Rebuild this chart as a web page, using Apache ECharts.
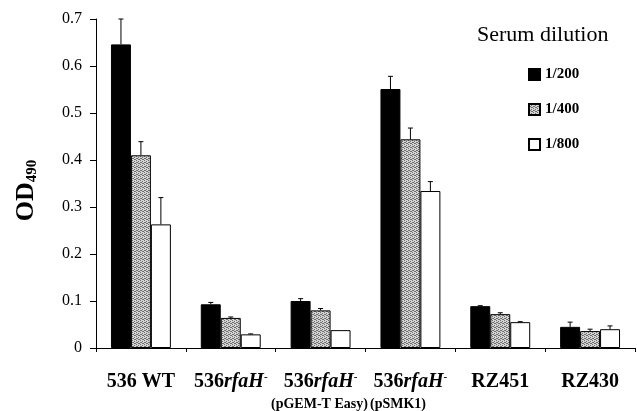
<!DOCTYPE html>
<html>
<head>
<meta charset="utf-8">
<script src="https://cdn.jsdelivr.net/npm/echarts@6/dist/echarts.min.js"></script>
<style>html,body{margin:0;padding:0;background:#fff;}#c{width:637px;height:411px;}</style>
</head>
<body>
<div id="c"></div>
<script>
// ---- data ----
const categories = ['536 WT', '536rfaH-', '536rfaH-', '536rfaH-', 'RZ451', 'RZ430'];
const subLabels = ['(pGEM-T Easy)', '(pSMK1)'];
const seriesNames = ['1/200', '1/400', '1/800'];
const val200 = [0.646, 0.093, 0.100, 0.551, 0.089, 0.045];
const err200 = [0.054, 0.004, 0.005, 0.027, 0.001, 0.010];
const val400 = [0.410, 0.064, 0.080, 0.444, 0.072, 0.036];
const err400 = [0.029, 0.002, 0.004, 0.024, 0.003, 0.004];
const val800 = [0.263, 0.029, 0.038, 0.334, 0.055, 0.040];
const err800 = [0.057, 0.001, 0.000, 0.020, 0.001, 0.007];
const yTicks = [0, 0.1, 0.2, 0.3, 0.4, 0.5, 0.6, 0.7];

// ---- grey halftone pattern ----
const pc = document.createElement('canvas');
pc.width = 4; pc.height = 4;
const pctx = pc.getContext('2d');
pctx.fillStyle = '#d4d4d4'; pctx.fillRect(0, 0, 4, 4);
pctx.fillStyle = '#6e6e6e';
[[0,0],[2,1],[1,2],[3,3],[2,3],[0,2]].forEach(p => pctx.fillRect(p[0], p[1], 1, 1));
const greyPattern = { image: pc, repeat: 'repeat' };

const FONT = '"Liberation Serif", "Times New Roman", serif';
const GAP = 1 / 3;

const vals = [val200, val400, val800];
const errs = [err200, err400, err800];
const fills = ['#000000', greyPattern, '#ffffff'];

const errData = [];
vals.forEach((arr, k) => arr.forEach((v, i) => errData.push([i, v, errs[k][i], k])));

const series = seriesNames.map((name, k) => ({
  name: name,
  type: 'bar',
  data: vals[k],
  barGap: '0%',
  barCategoryGap: '33.3%',
  itemStyle: { color: fills[k], borderColor: '#000', borderWidth: 1 },
  emphasis: { disabled: true },
  animation: false
}));

series.push({
  type: 'custom',
  data: errData,
  z: 5,
  animation: false,
  silent: true,
  renderItem: function (params, api) {
    const x = api.value(0), v = api.value(1), e = api.value(2), k = api.value(3);
    if (!(e > 0)) return null;
    const catW = api.size([1, 0])[0];
    const barW = catW * (1 - GAP) / 3;
    const base = api.coord([x, v]);
    const top = api.coord([x, v + e]);
    const cx = base[0] + (k - 1) * barW;
    const st = { stroke: '#000', lineWidth: 1 };
    return {
      type: 'group',
      children: [
        { type: 'line', shape: { x1: cx, y1: base[1], x2: cx, y2: top[1] }, style: st },
        { type: 'line', shape: { x1: cx - 2.5, y1: top[1], x2: cx + 2.5, y2: top[1] }, style: st }
      ]
    };
  }
});

const chart = echarts.init(document.getElementById('c'), null, { renderer: 'canvas' });
chart.setOption({
  backgroundColor: '#fff',
  animation: false,
  grid: { left: 96, right: 2, top: 19, bottom: 63, containLabel: false },
  title: {
    text: 'Serum dilution',
    left: 472, top: 19,
    textStyle: { fontFamily: FONT, fontSize: 22, fontWeight: 'normal', color: '#000' }
  },
  legend: {
    data: seriesNames,
    orient: 'vertical',
    left: 528, top: 67,
    padding: 0,
    icon: 'rect',
    itemWidth: 11, itemHeight: 11, itemGap: 20,
    selectedMode: false,
    textStyle: { fontFamily: FONT, fontSize: 15, fontWeight: 'bold', color: '#000' }
  },
  xAxis: {
    type: 'category',
    data: categories,
    axisLine: { lineStyle: { color: '#000', width: 1 } },
    axisTick: { show: true, length: 4, interval: 0, lineStyle: { color: '#000' } },
    axisLabel: {
      interval: 0, margin: 24, color: '#000',
      fontFamily: FONT, fontSize: 20, fontWeight: 'bold',
      formatter: function (v) {
        if (v === '536rfaH-') return '{n|536}{i|rfaH}{s|-}';
        return '{n|' + v + '}';
      },
      rich: {
        n: { fontFamily: FONT, fontSize: 20, fontWeight: 'bold', color: '#000' },
        i: { fontFamily: FONT, fontSize: 20, fontWeight: 'bold', fontStyle: 'italic', color: '#000' },
        s: { fontFamily: FONT, fontSize: 11, fontWeight: 'bold', color: '#000', verticalAlign: 'top' }
      }
    },
    splitLine: { show: false }
  },
  yAxis: {
    type: 'value',
    min: 0, max: 0.7, interval: 0.1,
    name: '{a|OD}{b|490}',
    nameLocation: 'middle',
    nameGap: 56,
    nameRotate: 90,
    nameTextStyle: {
      padding: [0, 14, 0, 0],
      rich: {
        a: { fontFamily: FONT, fontSize: 26, fontWeight: 'bold', color: '#000' },
        b: { fontFamily: FONT, fontSize: 15, fontWeight: 'bold', color: '#000', verticalAlign: 'bottom', padding: [12, 0, 0, 0] }
      }
    },
    axisLine: { show: true, lineStyle: { color: '#000', width: 1 } },
    axisTick: { show: true, length: 6, lineStyle: { color: '#000' } },
    axisLabel: {
      margin: 14, color: '#000', fontFamily: FONT, fontSize: 16,
      formatter: function (v) {
        const t = yTicks.find(x => Math.abs(x - v) < 1e-9);
        return t === undefined ? '' : String(t);
      }
    },
    splitLine: { show: false }
  },
  graphic: [
    { type: 'text', left: 271, top: 397, style: { text: subLabels[0], fontFamily: FONT, fontSize: 14, fontWeight: 'bold', fill: '#000' } },
    { type: 'text', left: 370, top: 397, style: { text: subLabels[1], fontFamily: FONT, fontSize: 14, fontWeight: 'bold', fill: '#000' } }
  ],
  series: series
});
</script>
</body>
</html>
